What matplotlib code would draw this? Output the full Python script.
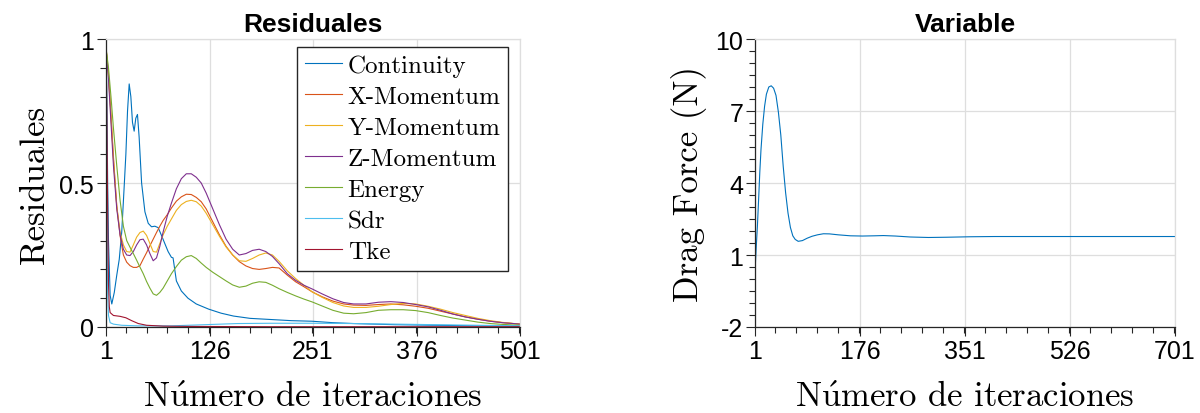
import matplotlib
matplotlib.use("Agg")
import matplotlib.pyplot as plt
from matplotlib.ticker import MultipleLocator, FixedLocator

plt.rcParams['mathtext.fontset'] = 'cm'
plt.rcParams['axes.unicode_minus'] = False
plt.rcParams['axes.formatter.use_mathtext'] = True

# ---------------- data: residuals ----------------
it_m = [1, 4, 7, 10, 14, 18, 22, 26, 30, 34, 38, 42, 46, 50, 54, 58, 62, 66, 70, 75,
        80, 86, 92, 98, 104, 110, 116, 122, 130, 138, 146, 154, 162, 170, 178, 186, 194,
        202, 210, 220, 230, 240, 250, 262, 275, 288, 300, 315, 330, 345, 360, 375, 390,
        405, 420, 435, 450, 465, 480, 501]

x_mom = [0.97, 0.88, 0.74, 0.59, 0.42, 0.317, 0.25, 0.225, 0.213, 0.207, 0.207, 0.213,
         0.236, 0.258, 0.282, 0.305, 0.328, 0.35, 0.37, 0.39, 0.413, 0.437, 0.452, 0.461,
         0.46, 0.45, 0.435, 0.41, 0.365, 0.32, 0.28, 0.25, 0.227, 0.212, 0.203, 0.2, 0.203,
         0.207, 0.205, 0.18, 0.157, 0.14, 0.122, 0.105, 0.09, 0.08, 0.076, 0.075, 0.078,
         0.08, 0.077, 0.072, 0.065, 0.055, 0.045, 0.035, 0.027, 0.02, 0.015, 0.01]

y_mom = [0.97, 0.87, 0.73, 0.58, 0.42, 0.33, 0.285, 0.262, 0.26, 0.285, 0.312, 0.328,
         0.333, 0.318, 0.29, 0.262, 0.26, 0.29, 0.32, 0.35, 0.375, 0.405, 0.425, 0.436,
         0.44, 0.435, 0.42, 0.395, 0.355, 0.315, 0.278, 0.25, 0.23, 0.228, 0.238, 0.25,
         0.257, 0.25, 0.228, 0.195, 0.168, 0.145, 0.122, 0.103, 0.085, 0.073, 0.068, 0.068,
         0.072, 0.078, 0.082, 0.08, 0.072, 0.062, 0.05, 0.04, 0.03, 0.022, 0.016, 0.01]

z_mom = [0.97, 0.86, 0.71, 0.56, 0.41, 0.32, 0.27, 0.25, 0.248, 0.262, 0.285, 0.303,
         0.305, 0.285, 0.255, 0.23, 0.24, 0.28, 0.33, 0.385, 0.43, 0.48, 0.515, 0.532,
         0.532, 0.52, 0.5, 0.465, 0.41, 0.355, 0.305, 0.27, 0.25, 0.255, 0.266, 0.27,
         0.262, 0.245, 0.22, 0.185, 0.162, 0.145, 0.132, 0.115, 0.098, 0.085, 0.08, 0.08,
         0.086, 0.088, 0.085, 0.078, 0.07, 0.058, 0.045, 0.035, 0.027, 0.02, 0.015, 0.01]

energy = [0.97, 0.9, 0.8, 0.69, 0.56, 0.44, 0.35, 0.3, 0.277, 0.255, 0.232, 0.208, 0.185,
          0.158, 0.135, 0.115, 0.11, 0.12, 0.135, 0.16, 0.185, 0.21, 0.232, 0.244, 0.248,
          0.238, 0.222, 0.207, 0.19, 0.175, 0.16, 0.146, 0.138, 0.142, 0.152, 0.157, 0.155,
          0.145, 0.133, 0.12, 0.108, 0.097, 0.087, 0.073, 0.058, 0.048, 0.046, 0.05, 0.058,
          0.06, 0.06, 0.057, 0.05, 0.04, 0.031, 0.024, 0.017, 0.012, 0.009, 0.006]

it_c = [1, 2, 3, 4, 6, 8, 11, 14, 17, 20, 23, 25, 27, 29, 31, 33, 35, 37, 39, 41, 44, 48,
        52, 56, 60, 64, 68, 72, 76, 80, 82, 86, 92, 100, 110, 125, 140, 155, 175, 200, 225,
        250, 275, 300, 325, 350, 375, 400, 425, 450, 475, 501]
continuity = [1.0, 0.8, 0.5, 0.3, 0.11, 0.08, 0.12, 0.18, 0.235, 0.33, 0.49, 0.6, 0.75,
              0.844, 0.8, 0.71, 0.68, 0.725, 0.738, 0.66, 0.5, 0.4, 0.36, 0.348, 0.35,
              0.345, 0.318, 0.29, 0.262, 0.242, 0.24, 0.16, 0.125, 0.1, 0.08, 0.062, 0.048,
              0.038, 0.03, 0.026, 0.022, 0.02, 0.015, 0.012, 0.01, 0.008, 0.007, 0.006,
              0.005, 0.004, 0.004, 0.003]

it_s = [1, 2, 3, 4, 6, 10, 20, 40, 80, 120, 160, 200, 250, 300, 350, 400, 450, 501]
sdr = [1.0, 0.5, 0.12, 0.04, 0.015, 0.01, 0.006, 0.004, 0.004, 0.008, 0.012, 0.013,
       0.013, 0.012, 0.01, 0.008, 0.006, 0.004]

it_t = [1, 2, 3, 4, 5, 6, 10, 18, 25, 32, 40, 50, 70, 100, 200, 300, 400, 501]
tke = [1.0, 0.75, 0.4, 0.15, 0.07, 0.05, 0.04, 0.037, 0.032, 0.022, 0.012, 0.006, 0.003,
       0.002, 0.001, 0.001, 0.001, 0.001]

labels = ['Continuity', 'X-Momentum', 'Y-Momentum', 'Z-Momentum', 'Energy', 'Sdr', 'Tke']
colors = ['#0072BD', '#D95319', '#EDB120', '#7E2F8E', '#77AC30', '#4DBEEE', '#A2142F']

# ---------------- data: drag force ----------------
it_d = [1, 3, 5, 7, 9, 11, 14, 17, 20, 24, 28, 32, 36, 40, 44, 48, 52, 56, 60, 64, 68, 73,
        80, 88, 96, 105, 115, 125, 140, 160, 180, 200, 215, 235, 260, 290, 320, 360, 400,
        450, 500, 550, 600, 650, 701]
drag = [0.3, 1.3, 2.2, 3.3, 4.45, 5.4, 6.45, 7.2, 7.7, 8.0, 8.05, 7.95, 7.65, 6.95, 6.0,
        4.7, 3.6, 2.75, 2.15, 1.8, 1.65, 1.57, 1.6, 1.7, 1.78, 1.84, 1.885, 1.88, 1.84, 1.8,
        1.79, 1.8, 1.81, 1.79, 1.75, 1.73, 1.74, 1.76, 1.77, 1.77, 1.77, 1.77, 1.77, 1.77,
        1.77]

xt_left = [1, 126, 251, 376, 501]
yt_left = [0, 0.5, 1]
xt_right = [1, 176, 351, 526, 701]
yt_right = [-2, 1, 4, 7, 10]

# ---------------- figure ----------------
fig = plt.figure(figsize=(12, 4.14), dpi=100)
ax1 = fig.add_axes([106 / 1200, 86 / 414, 414 / 1200, 288 / 414])
ax2 = fig.add_axes([755 / 1200, 86 / 414, 420 / 1200, 288 / 414])

TICK = 18
labfont = dict(family='cmr10', size=25)
gridc = '#dedede'
axc = '#262626'


def style(ax):
    ax.grid(True, which='major', color=gridc, lw=0.9)
    ax.set_axisbelow(True)
    for s in ['top', 'right']:
        ax.spines[s].set_color(gridc)
        ax.spines[s].set_linewidth(0.9)
    for s in ['left', 'bottom']:
        ax.spines[s].set_color(axc)
        ax.spines[s].set_linewidth(0.9)
    ax.tick_params(which='major', direction='out', length=6.5, width=0.8, color=axc,
                   labelcolor='black', pad=2)
    ax.tick_params(which='minor', direction='out', length=4, width=0.8, color=axc)
    for lab in ax.get_xticklabels() + ax.get_yticklabels():
        lab.set_fontfamily('Liberation Sans')
        lab.set_fontsize(TICK)


# left panel
series_x = [it_c, it_m, it_m, it_m, it_m, it_s, it_t]
series_y = [continuity, x_mom, y_mom, z_mom, energy, sdr, tke]
for xs, ys, lab, c in zip(series_x, series_y, labels, colors):
    ax1.plot(xs, ys, color=c, lw=0.8, label=lab)
ax1.set_xlim(1, 501)
ax1.set_ylim(0, 1)
ax1.set_xticks(xt_left)
ax1.set_xticklabels([str(v) for v in xt_left])
ax1.set_yticks(yt_left)
ax1.set_yticklabels(['0', '0.5', '1'])
ax1.xaxis.set_minor_locator(MultipleLocator(25))
ax1.yaxis.set_minor_locator(MultipleLocator(0.1))
style(ax1)
ax1.set_title('Residuales', fontfamily='Liberation Sans', fontweight='bold', fontsize=19,
              pad=6, color='black')
ax1.set_xlabel(r'N$\acute{\rm u}$mero de iteraciones', **labfont, labelpad=13)
ax1.set_ylabel('Residuales', **labfont, labelpad=6)
leg = ax1.legend(loc='upper right', bbox_to_anchor=(0.971, 0.972), borderaxespad=0,
                 prop=dict(family='cmr10', size=18), frameon=True, fancybox=False,
                 framealpha=1, edgecolor=axc, handlelength=1.5, handletextpad=0.22,
                 labelspacing=0.34, borderpad=0.3)
leg.get_frame().set_linewidth(1.0)

# right panel
ax2.plot(it_d, drag, color=colors[0], lw=0.8)
ax2.set_xlim(1, 701)
ax2.set_ylim(-2, 10)
ax2.set_xticks(xt_right)
ax2.set_xticklabels([str(v) for v in xt_right])
ax2.set_yticks(yt_right)
ax2.set_yticklabels([str(v) for v in yt_right])
ax2.xaxis.set_minor_locator(MultipleLocator(35))
ax2.yaxis.set_minor_locator(FixedLocator([-2 + 0.5 * k for k in range(25)]))
style(ax2)
ax2.set_title('Variable', fontfamily='Liberation Sans', fontweight='bold', fontsize=19,
              pad=6, color='black')
ax2.set_xlabel(r'N$\acute{\rm u}$mero de iteraciones', **labfont, labelpad=13)
ax2.set_ylabel('Drag Force (N)', **labfont, labelpad=6)

fig.savefig('out.png', dpi=100)
